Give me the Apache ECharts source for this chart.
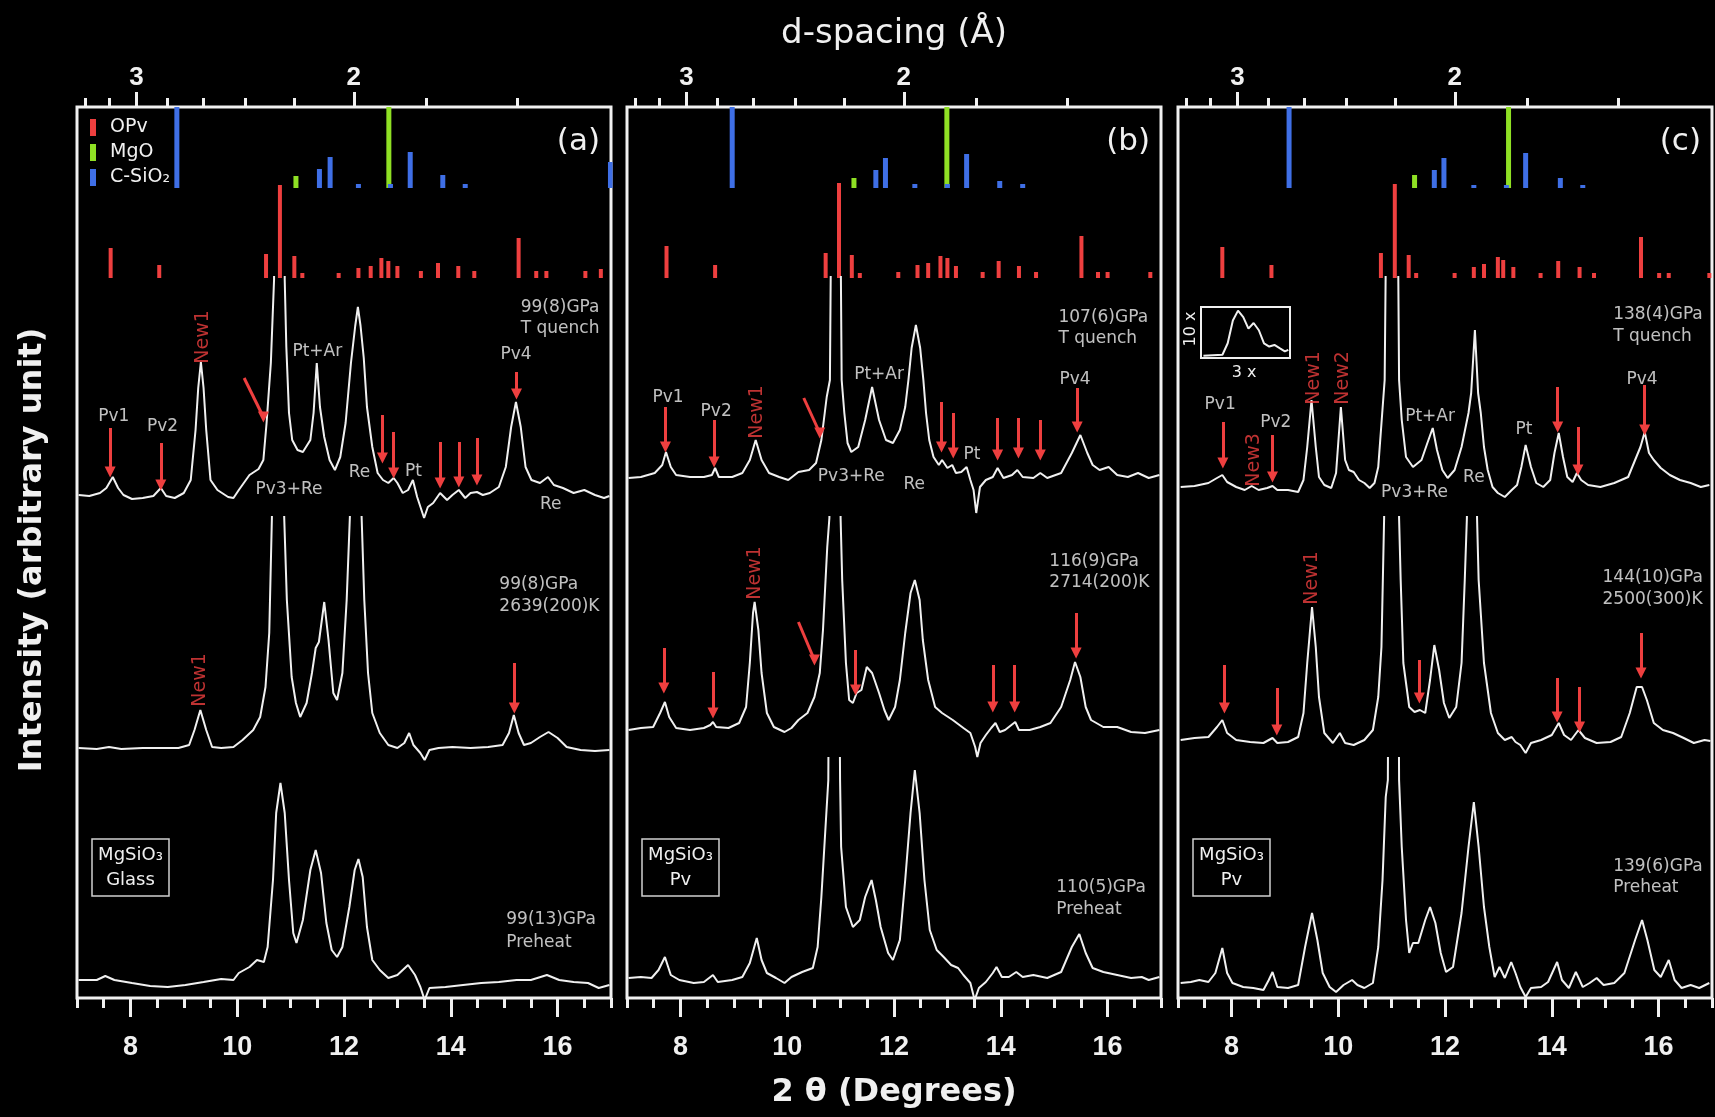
<!DOCTYPE html>
<html>
<head>
<meta charset="utf-8">
<title>MgSiO3 diffraction patterns</title>
<script src="https://cdn.jsdelivr.net/npm/echarts@6.0.0/dist/echarts.min.js"></script>
<style>
  html, body { margin: 0; padding: 0; background: #000; }
  #chart { width: 1715px; height: 1117px; }
</style>
</head>
<body>
<div id="chart"></div>
<script>
// axis ticks: 2theta below, d-spacing above (lambda in angstrom)
var twoThetaLabels = [8, 10, 12, 14, 16];
var dTicks = [3.4, 3.2, 3.0, 2.8, 2.6, 2.4, 2.2, 2.0, 1.8, 1.6];
var dLabels = [3, 2];
var lambda = 0.4245;

// reference sticks [2theta, height]
var aOPv = [[7.63,30],[8.54,13],[10.54,24],[10.80,93],[11.07,22],[11.22,5],[11.90,5],[12.27,10],[12.50,12],[12.70,20],[12.83,17],[13.00,12],[13.44,7],[13.76,15],[14.14,12],[14.44,7],[15.27,40],[15.60,7],[15.79,7],[16.52,7],[16.81,9]];
var aMgO = [[11.10,12],[12.84,120]];
var aCSiO2 = [[8.87,120],[11.54,19],[11.74,31],[12.27,4],[12.87,4],[13.24,36],[13.85,13],[14.27,4],[16.99,26]];
var bOPv = [[7.74,32],[8.65,13],[10.72,25],[10.97,95],[11.21,23],[11.36,5],[12.08,6],[12.44,13],[12.64,15],[12.87,22],[13.00,20],[13.16,12],[13.66,6],[13.96,17],[14.34,12],[14.66,6],[15.51,42],[15.82,6],[16.00,6],[16.80,6]];
var bMgO = [[11.25,10],[12.99,120]];
var bCSiO2 = [[8.97,120],[11.66,18],[11.84,30],[12.39,4],[13.00,4],[13.36,34],[13.98,7],[14.41,4]];
var cOPv = [[7.83,31],[8.75,13],[10.80,25],[11.06,94],[11.32,23],[11.46,5],[12.18,5],[12.54,11],[12.73,14],[12.99,21],[13.09,18],[13.28,11],[13.79,5],[14.12,17],[14.52,11],[14.79,5],[15.67,41],[16.01,5],[16.19,5],[16.95,5]];
var cMgO = [[11.43,13],[13.19,120]];
var cCSiO2 = [[9.08,120],[11.80,18],[11.98,30],[12.54,3],[13.15,3],[13.51,35],[14.16,10],[14.58,3]];

// patterns [2theta, intensity]; each one is cut at the top of its band
var aQuench = [[7.03,503],[7.23,502],[7.43,505],[7.55,510],[7.67,521],[7.77,510],[7.87,503],[8.03,499],[8.23,500],[8.43,502],[8.57,510],[8.67,502],[8.83,500],[9.00,505],[9.13,518],[9.22,568],[9.27,610],[9.32,636],[9.37,610],[9.42,568],[9.50,518],[9.63,508],[9.83,501],[9.93,500],[10.03,508],[10.23,523],[10.40,529],[10.49,538],[10.55,575],[10.63,635],[10.69,718],[10.73,1000],[10.86,1000],[10.89,718],[10.92,651],[10.97,585],[11.03,558],[11.13,548],[11.23,546],[11.37,558],[11.43,585],[11.49,635],[11.55,591],[11.63,561],[11.73,538],[11.83,528],[11.93,541],[12.03,575],[12.13,635],[12.21,672],[12.26,691],[12.31,672],[12.37,640],[12.43,591],[12.53,551],[12.63,525],[12.73,518],[12.83,515],[12.93,520],[13.00,515],[13.10,505],[13.20,508],[13.29,518],[13.37,501],[13.50,480],[13.57,491],[13.67,495],[13.80,505],[13.93,498],[14.03,503],[14.15,508],[14.27,500],[14.37,505],[14.49,506],[14.60,503],[14.73,505],[14.90,511],[15.03,531],[15.13,571],[15.22,596],[15.31,571],[15.40,531],[15.51,518],[15.67,515],[15.82,521],[15.93,513],[16.10,510],[16.30,505],[16.50,508],[16.70,503],[16.87,500],[16.97,502]];
var aHot = [[7.03,250],[7.37,249],[7.60,251],[7.83,249],[8.23,250],[8.57,250],[8.90,250],[9.10,253],[9.20,268],[9.31,288],[9.42,268],[9.53,251],[9.70,250],[9.93,251],[10.10,258],[10.30,268],[10.43,281],[10.53,311],[10.60,365],[10.65,481],[10.70,800],[10.85,800],[10.88,481],[10.93,398],[11.02,321],[11.10,295],[11.18,281],[11.30,295],[11.40,325],[11.47,350],[11.53,356],[11.63,396],[11.71,358],[11.80,305],[11.87,298],[11.97,325],[12.05,398],[12.11,481],[12.15,800],[12.28,800],[12.33,481],[12.38,398],[12.45,325],[12.53,285],[12.67,265],[12.83,253],[13.00,250],[13.13,255],[13.22,265],[13.30,253],[13.43,245],[13.51,238],[13.60,248],[13.77,250],[14.03,251],[14.37,250],[14.70,251],[14.97,253],[15.09,265],[15.18,283],[15.27,265],[15.37,253],[15.50,255],[15.67,261],[15.83,266],[16.00,260],[16.17,251],[16.43,248],[16.70,247],[16.97,248]];
var aPre = [[7.03,18],[7.37,18],[7.53,22],[7.70,18],[8.03,15],[8.37,12],[8.70,11],[9.03,13],[9.37,16],[9.70,19],[9.93,18],[10.03,25],[10.23,31],[10.37,38],[10.50,36],[10.57,51],[10.67,118],[10.73,185],[10.81,215],[10.89,185],[10.97,118],[11.05,65],[11.11,55],[11.23,78],[11.37,128],[11.47,148],[11.57,125],[11.67,75],[11.77,48],[11.87,41],[11.97,51],[12.10,91],[12.20,128],[12.27,139],[12.35,121],[12.43,71],[12.53,38],[12.67,28],[12.83,20],[13.00,23],[13.20,33],[13.33,23],[13.43,11],[13.51,-2],[13.60,10],[13.90,11],[14.23,13],[14.57,15],[14.90,16],[15.23,18],[15.50,18],[15.80,23],[16.03,18],[16.30,16],[16.57,15],[16.77,10],[16.97,13]];
var bQuench = [[7.03,520],[7.26,521],[7.52,525],[7.66,533],[7.73,546],[7.82,531],[7.92,523],[8.18,521],[8.44,521],[8.59,523],[8.65,530],[8.72,521],[8.97,521],[9.16,525],[9.30,538],[9.41,558],[9.52,538],[9.66,525],[9.85,521],[10.02,518],[10.21,526],[10.41,528],[10.54,535],[10.64,558],[10.74,601],[10.80,618],[10.84,900],[10.98,900],[11.02,618],[11.07,585],[11.13,555],[11.20,546],[11.33,551],[11.46,578],[11.59,611],[11.72,578],[11.85,558],[11.98,555],[12.11,568],[12.21,591],[12.27,618],[12.33,650],[12.41,673],[12.49,650],[12.55,618],[12.60,585],[12.66,558],[12.74,541],[12.84,533],[12.90,538],[13.00,530],[13.09,533],[13.16,525],[13.26,526],[13.36,531],[13.43,518],[13.49,508],[13.54,485],[13.61,511],[13.72,518],[13.85,521],[13.94,530],[14.05,520],[14.21,523],[14.31,528],[14.41,521],[14.61,520],[14.74,525],[14.87,520],[15.13,525],[15.33,545],[15.49,563],[15.62,545],[15.72,533],[15.85,528],[16.02,531],[16.18,523],[16.38,521],[16.57,525],[16.77,520],[16.97,523]];
var bHot = [[7.03,268],[7.26,270],[7.49,271],[7.62,285],[7.71,296],[7.79,281],[7.92,270],[8.18,268],[8.44,270],[8.56,273],[8.61,276],[8.67,271],[8.90,270],[9.10,275],[9.23,291],[9.30,335],[9.36,385],[9.39,396],[9.46,368],[9.52,325],[9.62,285],[9.75,271],[9.95,266],[10.08,270],[10.21,278],[10.38,285],[10.51,301],[10.61,325],[10.67,368],[10.75,451],[10.79,480],[10.83,800],[10.97,800],[11.00,480],[11.03,418],[11.10,335],[11.16,298],[11.23,295],[11.30,305],[11.39,308],[11.49,331],[11.59,325],[11.72,305],[11.82,288],[11.90,278],[12.02,291],[12.11,318],[12.21,365],[12.31,405],[12.39,418],[12.48,398],[12.54,358],[12.64,318],[12.77,291],[12.90,285],[13.10,278],[13.30,270],[13.43,265],[13.52,251],[13.56,241],[13.62,255],[13.72,263],[13.82,270],[13.90,275],[13.98,266],[14.08,268],[14.27,276],[14.34,268],[14.54,268],[14.74,271],[14.93,275],[15.13,291],[15.30,318],[15.39,336],[15.49,321],[15.59,291],[15.69,278],[15.92,271],[16.18,271],[16.44,266],[16.70,265],[16.97,268]];
var bPre = [[7.03,20],[7.26,21],[7.46,20],[7.59,28],[7.71,41],[7.82,23],[7.98,18],[8.25,15],[8.44,16],[8.61,23],[8.70,16],[8.97,18],[9.16,21],[9.30,35],[9.43,60],[9.52,38],[9.62,25],[9.79,20],[9.95,15],[10.08,21],[10.28,26],[10.48,30],[10.57,51],[10.64,101],[10.77,218],[10.80,600],[10.95,600],[10.99,218],[11.01,151],[11.10,91],[11.23,71],[11.36,78],[11.46,101],[11.58,118],[11.66,98],[11.75,71],[11.89,45],[11.98,38],[12.11,58],[12.21,118],[12.31,185],[12.39,228],[12.48,185],[12.57,118],[12.67,68],[12.80,48],[12.93,41],[13.07,33],[13.20,30],[13.30,23],[13.43,15],[13.51,-2],[13.59,10],[13.72,16],[13.85,25],[13.92,31],[14.02,21],[14.15,21],[14.29,26],[14.41,21],[14.61,23],[14.87,20],[15.13,26],[15.33,51],[15.47,64],[15.59,45],[15.72,30],[15.92,26],[16.18,23],[16.44,20],[16.64,21],[16.77,18],[16.97,21]];
var cQuench = [[7.05,511],[7.31,512],[7.57,515],[7.73,520],[7.83,523],[7.92,516],[8.09,511],[8.25,508],[8.38,512],[8.51,508],[8.67,510],[8.77,512],[8.86,508],[9.06,508],[9.25,506],[9.35,518],[9.42,551],[9.50,598],[9.58,551],[9.64,521],[9.74,513],[9.87,510],[9.96,525],[10.05,591],[10.13,538],[10.20,528],[10.29,526],[10.39,518],[10.49,515],[10.59,510],[10.68,515],[10.75,531],[10.87,618],[10.92,900],[11.10,900],[11.14,618],[11.19,578],[11.27,541],[11.40,531],[11.56,538],[11.67,555],[11.77,570],[11.85,548],[11.95,528],[12.05,520],[12.18,528],[12.31,551],[12.44,585],[12.49,605],[12.56,668],[12.62,605],[12.67,585],[12.73,551],[12.80,528],[12.89,511],[12.99,505],[13.12,501],[13.25,508],[13.35,513],[13.43,531],[13.51,553],[13.61,531],[13.71,515],[13.84,511],[13.97,518],[14.05,545],[14.13,565],[14.21,541],[14.29,521],[14.39,516],[14.47,525],[14.55,518],[14.68,513],[14.91,511],[15.17,515],[15.43,521],[15.56,538],[15.66,551],[15.74,566],[15.82,545],[15.91,538],[16.04,530],[16.21,523],[16.40,518],[16.60,515],[16.79,511],[16.95,513]];
var cHot = [[7.05,258],[7.31,260],[7.57,261],[7.73,271],[7.83,278],[7.92,265],[8.09,258],[8.35,256],[8.60,255],[8.77,260],[8.86,255],[9.06,256],[9.25,261],[9.35,285],[9.42,335],[9.51,391],[9.58,351],[9.64,301],[9.74,265],[9.90,255],[10.03,265],[10.13,255],[10.29,253],[10.49,258],[10.65,268],[10.75,301],[10.81,351],[10.86,480],[10.92,800],[11.12,800],[11.14,480],[11.17,418],[11.22,335],[11.33,291],[11.43,286],[11.53,288],[11.63,285],[11.72,318],[11.80,353],[11.89,328],[11.98,295],[12.08,280],[12.21,291],[12.31,335],[12.37,418],[12.41,480],[12.45,800],[12.58,800],[12.60,480],[12.63,418],[12.73,335],[12.86,285],[12.99,265],[13.12,258],[13.25,261],[13.32,256],[13.41,253],[13.51,245],[13.61,255],[13.80,258],[14.00,263],[14.13,275],[14.23,263],[14.36,258],[14.50,268],[14.62,260],[14.84,255],[15.10,256],[15.30,261],[15.46,285],[15.59,311],[15.69,311],[15.78,298],[15.91,275],[16.08,268],[16.27,265],[16.47,260],[16.66,255],[16.86,258],[16.97,257]];
var cPre = [[7.05,15],[7.24,16],[7.40,18],[7.57,16],[7.70,25],[7.83,50],[7.92,25],[8.02,15],[8.22,11],[8.41,10],[8.60,8],[8.70,18],[8.77,26],[8.86,11],[9.06,10],[9.25,13],[9.38,51],[9.51,85],[9.61,58],[9.71,25],[9.84,11],[9.96,6],[10.10,13],[10.26,18],[10.36,13],[10.49,10],[10.65,15],[10.75,51],[10.83,118],[10.89,201],[10.93,218],[10.96,600],[11.11,600],[11.14,218],[11.19,151],[11.27,78],[11.33,45],[11.40,55],[11.50,55],[11.63,78],[11.72,91],[11.82,75],[11.92,45],[12.02,26],[12.15,31],[12.31,85],[12.44,151],[12.54,196],[12.63,151],[12.73,91],[12.83,51],[12.93,21],[13.02,31],[13.12,20],[13.24,36],[13.32,25],[13.41,11],[13.51,1],[13.61,10],[13.80,11],[13.93,16],[14.10,36],[14.19,18],[14.32,10],[14.45,26],[14.58,11],[14.71,15],[14.84,20],[14.97,13],[15.17,15],[15.36,25],[15.56,58],[15.69,78],[15.79,58],[15.92,28],[16.04,21],[16.19,38],[16.30,18],[16.43,10],[16.60,13],[16.76,10],[16.95,15]];
// small inset of panel (c), its own 0-100 scale
var insetCurve = [[2.7,2.3],[24.1,3.3],[30.0,15],[35.8,38.3],[41.6,48.3],[47.5,41.7],[53.3,30],[59.1,35.7],[65.0,28.3],[70.8,15],[76.7,11.7],[82.5,13.3],[88.3,10],[94.2,6.7],[98.1,8.3]];

// red arrows [2theta, from, to] and slanted ones [x1, y1, x2, y2]
var aQuenchArrows = [[7.62,570,526],[8.57,555,513],[12.72,583,540],[12.93,566,525],[13.80,556,515],[14.15,556,516],[14.49,560,518],[15.23,626,604]];
var aQuenchSlants = [[10.13,620,10.49,581]];
var aHotArrows = [[15.19,335,290]];
var bQuenchArrows = [[7.72,591,551],[8.63,578,536],[12.89,596,551],[13.11,585,545],[13.94,580,543],[14.33,580,545],[14.74,578,543],[15.43,610,571]];
var bQuenchSlants = [[10.31,600,10.61,565]];
var bHotArrows = [[7.69,350,310],[8.61,326,285],[11.28,348,308],[13.85,333,291],[14.26,333,291],[15.41,385,345]];
var bHotSlants = [[10.21,376,10.51,338]];
var cQuenchArrows = [[7.84,576,535],[8.77,563,521],[14.11,611,571],[14.49,571,528],[15.74,613,568]];
var cHotArrows = [[7.87,333,290],[8.85,310,268],[11.52,338,300],[14.10,320,281],[14.52,311,271],[15.67,365,325]];

// peak names
var aQuenchText = [[7.69,581,'Pv1'],[8.60,571,'Pv2'],[11.50,646,'Pt+Ar'],[10.97,508,'Pv3+Re'],[12.29,525,'Re'],[13.30,526,'Pt'],[15.22,643,'Pv4'],[15.87,493,'Re']];
var bQuenchText = [[7.77,600,'Pv1'],[8.67,586,'Pv2'],[11.72,623,'Pt+Ar'],[11.20,521,'Pv3+Re'],[12.38,513,'Re'],[13.46,543,'Pt'],[15.39,618,'Pv4']];
var cQuenchText = [[7.79,593,'Pv1'],[8.83,575,'Pv2'],[11.72,581,'Pt+Ar'],[11.43,505,'Pv3+Re'],[12.54,520,'Re'],[13.48,568,'Pt'],[15.69,618,'Pv4']];
var aQuenchNew = [[9.37,661,'New1']];
var aHotNew = [[9.31,318,'New1']];
var bQuenchNew = [[9.43,586,'New1']];
var bHotNew = [[9.39,425,'New1']];
var cQuenchNew = [[8.42,538,'New3'],[9.55,620,'New1'],[10.10,620,'New2']];
var cHotNew = [[9.51,420,'New1']];

// conditions written beside each pattern
var aQuenchInfo = [[15.30,690,'99(8)GPa'],[15.30,669,'T quench']];
var aHotInfo = [[14.90,413,'99(8)GPa'],[14.90,391,'2639(200)K']];
var aPreInfo = [[15.03,78,'99(13)GPa'],[15.03,55,'Preheat']];
var bQuenchInfo = [[15.07,680,'107(6)GPa'],[15.07,659,'T quench']];
var bHotInfo = [[14.90,436,'116(9)GPa'],[14.90,415,'2714(200)K']];
var bPreInfo = [[15.03,110,'110(5)GPa'],[15.03,88,'Preheat']];
var cQuenchInfo = [[15.14,683,'138(4)GPa'],[15.14,661,'T quench']];
var cHotInfo = [[14.94,420,'144(10)GPa'],[14.94,398,'2500(300)K']];
var cPreInfo = [[15.14,131,'139(6)GPa'],[15.14,110,'Preheat']];

var panelTags = ['(a)', '(b)', '(c)'];
var startMaterial = ['Glass', 'Pv', 'Pv'];

// layout
var FG = '#f0f0f0', RED = '#ee3f3f', GREEN = '#8fe024', BLUE = '#3f6fe6';
var PANEL_LEFT = [77, 627, 1178], PANEL_W = 534;
var FRAME_TOP = 107, FRAME_BOTTOM = 998;
var BAND_TOP = [277, 517, 758];      // each pattern is cut off here
var OPV_BASE = 278, CSIO2_BASE = 188;
var TXT = 'DejaVu Sans';

function toTwoTheta(d) { return 2 * Math.asin(lambda / (2 * d)) * 180 / Math.PI; }
function toD(tt) { return lambda / (2 * Math.sin(tt / 2 * Math.PI / 180)); }

var panels = [
  {opv: aOPv, mgo: aMgO, csio2: aCSiO2, traces: [
    {data: aQuench, arrows: aQuenchArrows, slants: aQuenchSlants, text: aQuenchText, news: aQuenchNew, info: aQuenchInfo},
    {data: aHot, arrows: aHotArrows, slants: [], text: [], news: aHotNew, info: aHotInfo},
    {data: aPre, arrows: [], slants: [], text: [], news: [], info: aPreInfo}]},
  {opv: bOPv, mgo: bMgO, csio2: bCSiO2, traces: [
    {data: bQuench, arrows: bQuenchArrows, slants: bQuenchSlants, text: bQuenchText, news: bQuenchNew, info: bQuenchInfo},
    {data: bHot, arrows: bHotArrows, slants: bHotSlants, text: [], news: bHotNew, info: bHotInfo},
    {data: bPre, arrows: [], slants: [], text: [], news: [], info: bPreInfo}]},
  {opv: cOPv, mgo: cMgO, csio2: cCSiO2, traces: [
    {data: cQuench, arrows: cQuenchArrows, slants: [], text: cQuenchText, news: cQuenchNew, info: cQuenchInfo},
    {data: cHot, arrows: cHotArrows, slants: [], text: [], news: cHotNew, info: cHotInfo},
    {data: cPre, arrows: [], slants: [], text: [], news: [], info: cPreInfo}]}
];

var grids = [], xAxes = [], yAxes = [], series = [], graphics = [];
function addGrid(g) { grids.push(g); return grids.length - 1; }
function addX(a) { xAxes.push(a); return xAxes.length - 1; }
function addY(a) { yAxes.push(a); return yAxes.length - 1; }
function hiddenX(gi) { return addX({type: 'value', gridIndex: gi, min: 7, max: 17, show: false}); }
function hiddenY(gi, max) { return addY({type: 'value', gridIndex: gi, min: 0, max: max, show: false}); }

var tickLine = {color: FG, width: 3};
function frameAxis(gi, pos, ticks, len, labels, labelOpt) {
  var ax = {
    type: 'value', gridIndex: gi, min: 7, max: 17, position: pos,
    axisLine: {show: false}, splitLine: {show: false},
    axisTick: {show: true, length: len, lineStyle: tickLine},
    axisLabel: {show: false}
  };
  if (ticks) ax.axisTick.customValues = ticks; else ax.interval = 0.5;
  if (labels) {
    ax.axisLabel = Object.assign({show: true, customValues: labels, color: FG,
      fontFamily: 'Liberation Sans', fontWeight: 'bold'}, labelOpt);
  }
  return addX(ax);
}

function textSeries(xi, yi, items, label) {
  return {
    type: 'scatter', xAxisIndex: xi, yAxisIndex: yi, symbolSize: 1, silent: true, z: 6,
    itemStyle: {color: 'transparent'},
    data: items.map(function (t) { return {value: [t[0], t[1]], name: t[2]}; }),
    label: Object.assign({show: true, position: 'inside', formatter: '{b}', color: FG,
      fontSize: 17, fontFamily: TXT}, label)
  };
}

panels.forEach(function (p, i) {
  var left = PANEL_LEFT[i];
  // frame + axes
  var g = addGrid({left: left, top: FRAME_TOP, width: PANEL_W, height: FRAME_BOTTOM - FRAME_TOP,
    show: true, borderColor: FG, borderWidth: 3, backgroundColor: 'transparent'});
  addY({type: 'value', gridIndex: g, min: 0, max: 1, show: false});
  frameAxis(g, 'bottom', twoThetaLabels, 19, twoThetaLabels, {fontSize: 27, margin: 36});
  frameAxis(g, 'bottom', null, 10);
  var dMajor = dLabels.map(toTwoTheta);
  frameAxis(g, 'top', dMajor, 15, dMajor, {fontSize: 26, margin: 16,
    formatter: function (v) { return String(Math.round(toD(v))); }});
  frameAxis(g, 'top', dTicks.map(toTwoTheta), 9);

  // reference sticks
  var gr = addGrid({left: left, top: FRAME_TOP, width: PANEL_W, height: OPV_BASE - FRAME_TOP});
  var xr = hiddenX(gr), yr = hiddenY(gr, OPV_BASE - FRAME_TOP);
  series.push({type: 'bar', name: 'OPv', xAxisIndex: xr, yAxisIndex: yr, data: p.opv,
    barWidth: 4, clip: true, silent: true, itemStyle: {color: RED}});
  var gb = addGrid({left: left, top: FRAME_TOP, width: PANEL_W, height: CSIO2_BASE - FRAME_TOP});
  var xb = hiddenX(gb), yb = hiddenY(gb, CSIO2_BASE - FRAME_TOP);
  series.push({type: 'bar', name: 'MgO', xAxisIndex: xb, yAxisIndex: yb, data: p.mgo,
    barWidth: 5, barGap: '-100%', clip: true, silent: true, itemStyle: {color: GREEN}});
  series.push({type: 'bar', name: 'C-SiO₂', xAxisIndex: xb, yAxisIndex: yb, data: p.csio2,
    barWidth: 5, barGap: '-100%', clip: true, silent: true, itemStyle: {color: BLUE}});

  // the three patterns
  p.traces.forEach(function (t, k) {
    var h = FRAME_BOTTOM - BAND_TOP[k];
    var gt = addGrid({left: left, top: BAND_TOP[k], width: PANEL_W, height: h});
    var xt = hiddenX(gt), yt = hiddenY(gt, h);
    var marks = t.arrows.map(function (a) { return [{coord: [a[0], a[1]]}, {coord: [a[0], a[2]]}]; });
    t.slants.forEach(function (s) { marks.push([{coord: [s[0], s[1]]}, {coord: [s[2], s[3]]}]); });
    var line = {type: 'line', xAxisIndex: xt, yAxisIndex: yt, data: t.data, symbol: 'none',
      clip: true, silent: true, z: 4, lineStyle: {color: FG, width: 2}};
    if (marks.length) {
      line.markLine = {silent: true, symbol: ['none', 'triangle'], symbolSize: 11, symbolRotate: 180,
        animation: false, label: {show: false},
        lineStyle: {color: RED, width: 3, type: 'solid', opacity: 1}, data: marks};
    }
    series.push(line);
    if (t.text.length) series.push(textSeries(xt, yt, t.text, {}));
    if (t.news.length) series.push(textSeries(xt, yt, t.news, {rotate: 90, color: RED, fontSize: 19}));
    series.push(textSeries(xt, yt, t.info, {position: 'right', distance: 0, fontSize: 17}));
  });

  // panel letter and sample box
  graphics.push({type: 'text', x: left + PANEL_W - 11, y: 142, z: 10,
    style: {text: panelTags[i], fill: FG, font: '31px "DejaVu Sans"', align: 'right', verticalAlign: 'middle'}});
  graphics.push({type: 'rect', z: 10, shape: {x: left + 15, y: 839, width: 77, height: 57},
    style: {fill: 'none', stroke: '#cfcfcf', lineWidth: 1.5}});
  graphics.push({type: 'text', x: left + 53.5, y: 868, z: 10,
    style: {text: 'MgSiO₃\n' + startMaterial[i], fill: FG, font: '18px "DejaVu Sans"',
      lineHeight: 25, align: 'center', verticalAlign: 'middle'}});
});

// inset in panel (c)
var gi = addGrid({left: 1201, top: 307, width: 89, height: 51, show: true, borderColor: FG, borderWidth: 2});
var xi = addX({type: 'value', gridIndex: gi, min: 0, max: 100, show: false});
var yi = addY({type: 'value', gridIndex: gi, min: 0, max: 52, show: false});
series.push({type: 'line', xAxisIndex: xi, yAxisIndex: yi, data: insetCurve, symbol: 'none',
  silent: true, lineStyle: {color: FG, width: 2}});
graphics.push({type: 'text', x: 1191, y: 329, rotation: Math.PI / 2,
  style: {text: '10 x', fill: FG, font: '16px "DejaVu Sans"', align: 'center', verticalAlign: 'middle'}});
graphics.push({type: 'text', x: 1244, y: 373,
  style: {text: '3 x', fill: FG, font: '16px "DejaVu Sans"', align: 'center', verticalAlign: 'middle'}});

// axis titles
graphics.push({type: 'text', x: 894, y: 34,
  style: {text: 'd-spacing (Å)', fill: FG, font: '34px "DejaVu Sans"', align: 'center', verticalAlign: 'middle'}});
graphics.push({type: 'text', x: 894, y: 1093,
  style: {text: '2 θ (Degrees)', fill: FG, font: 'bold 32px "DejaVu Sans"', align: 'center', verticalAlign: 'middle'}});
graphics.push({type: 'text', x: 33, y: 550, rotation: Math.PI / 2,
  style: {text: 'Intensity (arbitrary unit)', fill: FG, font: 'bold 32px "DejaVu Sans"', align: 'center', verticalAlign: 'middle'}});

var chart = echarts.init(document.getElementById('chart'));
chart.setOption({
  backgroundColor: '#000',
  animation: false,
  legend: {
    data: [{name: 'OPv', icon: 'rect'}, {name: 'MgO', icon: 'rect'}, {name: 'C-SiO₂', icon: 'rect'}],
    orient: 'vertical', left: 85, top: 113, itemWidth: 6, itemHeight: 17, itemGap: 6,
    selectedMode: false,
    textStyle: {color: FG, fontSize: 19, fontFamily: TXT, padding: [0, 0, 0, 9]}
  },
  grid: grids,
  xAxis: xAxes,
  yAxis: yAxes,
  series: series,
  graphic: graphics
});
</script>
</body>
</html>
